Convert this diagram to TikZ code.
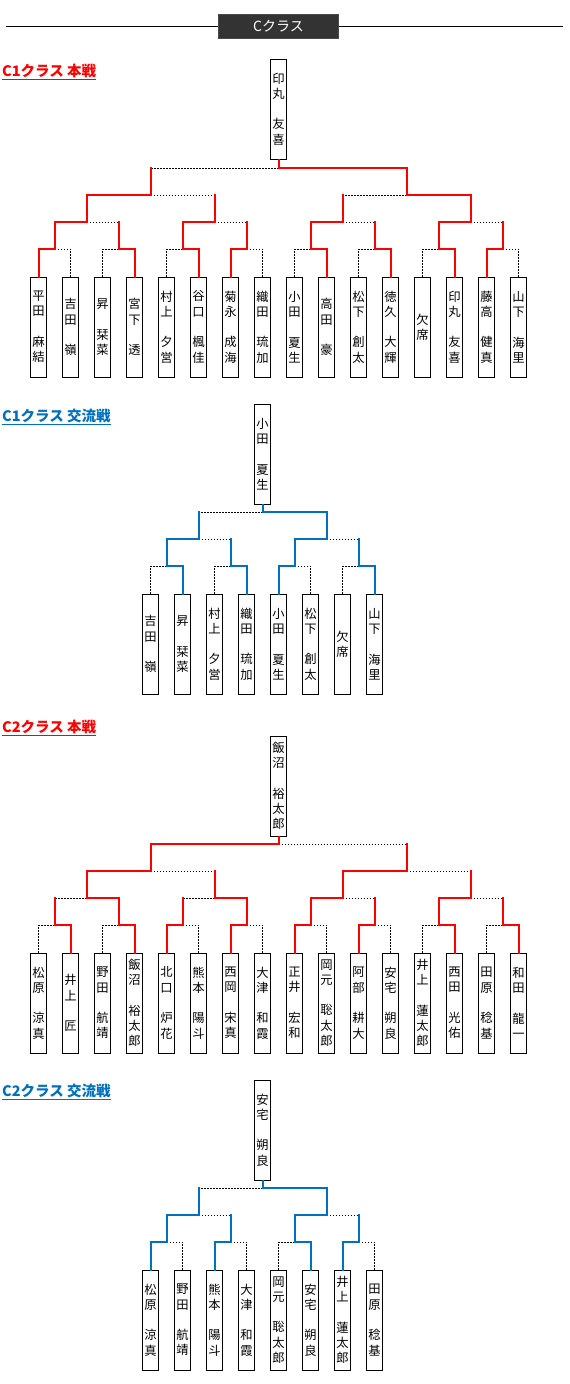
\documentclass[tikz,border=0pt]{standalone}
\usepackage{fontspec}
\newfontfamily\cjk{Noto Sans CJK JP}
\usetikzlibrary{calc}
\definecolor{cred}{HTML}{FF0000}
\definecolor{cblue}{HTML}{0070C0}
\definecolor{tbox}{HTML}{333333}
\definecolor{tboxline}{HTML}{4A4A4A}
\newcommand\nmgap{\\\mbox{}\\}
\tikzset{
  leafbox/.style={draw, line width=1pt, minimum width=16pt, minimum height=100pt,
    inner sep=0pt, align=center, anchor=north, font=\cjk\fontsize{12.3}{15.3}\selectfont},
  dotline/.style={draw=black, line width=1pt, dash pattern=on 1.5pt off 1.5pt},
  redwin/.style={draw=cred, line width=2pt, line cap=rect, line join=miter},
  bluewin/.style={draw=cblue, line width=2pt, line cap=rect, line join=miter},
  win/.style={redwin},
  hd/.style={font=\cjk\bfseries\fontsize{14.5}{16}\selectfont, anchor=base west, inner sep=0pt},
  titlebox/.style={fill=tbox, draw=tboxline, line width=1pt, minimum width=120pt,
    minimum height=24pt, inner sep=0pt, text=white, font=\cjk\fontsize{14}{16}\selectfont},
}
% #1 junction, #2 left child, #3 right child, #4 level y, #5 winner L/R, #6 1 if leaves
\newcommand\bm[6]{%
  \path let \p1=(#2), \p2=(#3) in coordinate (#1) at ({0.5*\x1+0.5*\x2},#4);
  \if L#5
    \draw[dotline] (#1) -- (#3 |- #1);
    \ifnum#6=1 \draw[dotline] (#3) -- (#3 |- #1);\else \draw[win] (#3) -- (#3 |- #1);\fi
    \draw[win] (#2) -- (#2 |- #1) -- (#1);
  \else
    \draw[dotline] (#1) -- (#2 |- #1);
    \ifnum#6=1 \draw[dotline] (#2) -- (#2 |- #1);\else \draw[win] (#2) -- (#2 |- #1);\fi
    \draw[win] (#3) -- (#3 |- #1) -- (#1);
  \fi}
\begin{document}
\begin{tikzpicture}[x=1pt,y=-1pt]
\useasboundingbox (0,0) rectangle (570,1384);
% title
\node[titlebox] (title) at (278.5,26.5) {Cクラス};
\coordinate (tl) at (6,26.5);
\coordinate (tr) at (563,26.5);
\draw[line width=1pt] (tl) -- (title.west);
\draw[line width=1pt] (title.east) -- (tr);

% ===== C1 main =====
\node[hd, text=cred] (h1) at (2,76) {\underline{C1クラス 本戦}};
\tikzset{win/.style={redwin}}
\node[leafbox] (ac) at (278.5,58.5) {印\\丸\nmgap 友\\喜};
\node[leafbox] (a0) at (38.5,276.5) {平\\田\nmgap 麻\\結};
\node[leafbox] (a1) at (70.5,276.5) {吉\\田\nmgap 嶺};
\node[leafbox] (a2) at (102.5,276.5) {昇\nmgap 栞\\菜};
\node[leafbox] (a3) at (134.5,276.5) {宮\\下\nmgap 透};
\node[leafbox] (a4) at (166.5,276.5) {村\\上\nmgap 夕\\営};
\node[leafbox] (a5) at (198.5,276.5) {谷\\口\nmgap 楓\\佳};
\node[leafbox] (a6) at (230.5,276.5) {菊\\永\nmgap 成\\海};
\node[leafbox] (a7) at (262.5,276.5) {織\\田\nmgap 琉\\加};
\node[leafbox] (a8) at (294.5,276.5) {小\\田\nmgap 夏\\生};
\node[leafbox] (a9) at (326.5,276.5) {高\\田\nmgap 豪};
\node[leafbox] (a10) at (358.5,276.5) {松\\下\nmgap 創\\太};
\node[leafbox] (a11) at (390.5,276.5) {徳\\久\nmgap 大\\輝};
\node[leafbox] (a12) at (422.5,276.5) {欠\\席};
\node[leafbox] (a13) at (454.5,276.5) {印\\丸\nmgap 友\\喜};
\node[leafbox] (a14) at (486.5,276.5) {藤\\高\nmgap 健\\真};
\node[leafbox] (a15) at (518.5,276.5) {山\\下\nmgap 海\\里};
\bm{A10}{a0.north}{a1.north}{249}{L}{1}
\bm{A11}{a2.north}{a3.north}{249}{R}{1}
\bm{A12}{a4.north}{a5.north}{249}{R}{1}
\bm{A13}{a6.north}{a7.north}{249}{L}{1}
\bm{A14}{a8.north}{a9.north}{249}{R}{1}
\bm{A15}{a10.north}{a11.north}{249}{R}{1}
\bm{A16}{a12.north}{a13.north}{249}{R}{1}
\bm{A17}{a14.north}{a15.north}{249}{L}{1}
\bm{A20}{A10}{A11}{222}{L}{0}
\bm{A21}{A12}{A13}{222}{L}{0}
\bm{A22}{A14}{A15}{222}{L}{0}
\bm{A23}{A16}{A17}{222}{L}{0}
\bm{A30}{A20}{A21}{195}{L}{0}
\bm{A31}{A22}{A23}{195}{R}{0}
\bm{A40}{A30}{A31}{168}{R}{0}
\draw[win] (ac.south) -- (A40);

% ===== C1 exchange =====
\node[hd, text=cblue] (h2) at (2,421) {\underline{C1クラス 交流戦}};
\tikzset{win/.style={bluewin}}
\node[leafbox] (bc) at (262.5,403.5) {小\\田\nmgap 夏\\生};
\node[leafbox] (b0) at (150.5,593.5) {吉\\田\nmgap 嶺};
\node[leafbox] (b1) at (182.5,593.5) {昇\nmgap 栞\\菜};
\node[leafbox] (b2) at (214.5,593.5) {村\\上\nmgap 夕\\営};
\node[leafbox] (b3) at (246.5,593.5) {織\\田\nmgap 琉\\加};
\node[leafbox] (b4) at (278.5,593.5) {小\\田\nmgap 夏\\生};
\node[leafbox] (b5) at (310.5,593.5) {松\\下\nmgap 創\\太};
\node[leafbox] (b6) at (342.5,593.5) {欠\\席};
\node[leafbox] (b7) at (374.5,593.5) {山\\下\nmgap 海\\里};
\bm{B10}{b0.north}{b1.north}{566}{R}{1}
\bm{B11}{b2.north}{b3.north}{566}{R}{1}
\bm{B12}{b4.north}{b5.north}{566}{L}{1}
\bm{B13}{b6.north}{b7.north}{566}{R}{1}
\bm{B20}{B10}{B11}{539}{L}{0}
\bm{B21}{B12}{B13}{539}{L}{0}
\bm{B30}{B20}{B21}{512}{R}{0}
\draw[win] (bc.south) -- (B30);

% ===== C2 main =====
\node[hd, text=cred] (h3) at (2,732) {\underline{C2クラス 本戦}};
\tikzset{win/.style={redwin}}
\node[leafbox] (cc) at (278.5,735.5) {飯\\沼\nmgap 裕\\太\\郎};
\node[leafbox] (c0) at (38.5,952.5) {松\\原\nmgap 涼\\真};
\node[leafbox] (c1) at (70.5,952.5) {井\\上\nmgap 匠};
\node[leafbox] (c2) at (102.5,952.5) {野\\田\nmgap 航\\靖};
\node[leafbox] (c3) at (134.5,952.5) {飯\\沼\nmgap 裕\\太\\郎};
\node[leafbox] (c4) at (166.5,952.5) {北\\口\nmgap 炉\\花};
\node[leafbox] (c5) at (198.5,952.5) {熊\\本\nmgap 陽\\斗};
\node[leafbox] (c6) at (230.5,952.5) {西\\岡\nmgap 宋\\真};
\node[leafbox] (c7) at (262.5,952.5) {大\\津\nmgap 和\\霞};
\node[leafbox] (c8) at (294.5,952.5) {正\\井\nmgap 宏\\和};
\node[leafbox] (c9) at (326.5,952.5) {岡\\元\nmgap 聡\\太\\郎};
\node[leafbox] (c10) at (358.5,952.5) {阿\\部\nmgap 耕\\大};
\node[leafbox] (c11) at (390.5,952.5) {安\\宅\nmgap 朔\\良};
\node[leafbox] (c12) at (422.5,952.5) {井\\上\nmgap 蓮\\太\\郎};
\node[leafbox] (c13) at (454.5,952.5) {西\\田\nmgap 光\\佑};
\node[leafbox] (c14) at (486.5,952.5) {田\\原\nmgap 稔\\基};
\node[leafbox] (c15) at (518.5,952.5) {和\\田\nmgap 龍\\一};
\bm{C10}{c0.north}{c1.north}{925}{R}{1}
\bm{C11}{c2.north}{c3.north}{925}{R}{1}
\bm{C12}{c4.north}{c5.north}{925}{L}{1}
\bm{C13}{c6.north}{c7.north}{925}{L}{1}
\bm{C14}{c8.north}{c9.north}{925}{L}{1}
\bm{C15}{c10.north}{c11.north}{925}{L}{1}
\bm{C16}{c12.north}{c13.north}{925}{R}{1}
\bm{C17}{c14.north}{c15.north}{925}{R}{1}
\bm{C20}{C10}{C11}{898}{R}{0}
\bm{C21}{C12}{C13}{898}{R}{0}
\bm{C22}{C14}{C15}{898}{L}{0}
\bm{C23}{C16}{C17}{898}{L}{0}
\bm{C30}{C20}{C21}{871}{L}{0}
\bm{C31}{C22}{C23}{871}{L}{0}
\bm{C40}{C30}{C31}{844}{L}{0}
\draw[win] (cc.south) -- (C40);

% ===== C2 exchange =====
\node[hd, text=cblue] (h4) at (2,1096) {\underline{C2クラス 交流戦}};
\tikzset{win/.style={bluewin}}
\node[leafbox] (dc) at (262.5,1079.5) {安\\宅\nmgap 朔\\良};
\node[leafbox] (d0) at (150.5,1269.5) {松\\原\nmgap 涼\\真};
\node[leafbox] (d1) at (182.5,1269.5) {野\\田\nmgap 航\\靖};
\node[leafbox] (d2) at (214.5,1269.5) {熊\\本\nmgap 陽\\斗};
\node[leafbox] (d3) at (246.5,1269.5) {大\\津\nmgap 和\\霞};
\node[leafbox] (d4) at (278.5,1269.5) {岡\\元\nmgap 聡\\太\\郎};
\node[leafbox] (d5) at (310.5,1269.5) {安\\宅\nmgap 朔\\良};
\node[leafbox] (d6) at (342.5,1269.5) {井\\上\nmgap 蓮\\太\\郎};
\node[leafbox] (d7) at (374.5,1269.5) {田\\原\nmgap 稔\\基};
\bm{D10}{d0.north}{d1.north}{1242}{L}{1}
\bm{D11}{d2.north}{d3.north}{1242}{L}{1}
\bm{D12}{d4.north}{d5.north}{1242}{R}{1}
\bm{D13}{d6.north}{d7.north}{1242}{L}{1}
\bm{D20}{D10}{D11}{1215}{L}{0}
\bm{D21}{D12}{D13}{1215}{L}{0}
\bm{D30}{D20}{D21}{1188}{R}{0}
\draw[win] (dc.south) -- (D30);
\end{tikzpicture}
\end{document}
